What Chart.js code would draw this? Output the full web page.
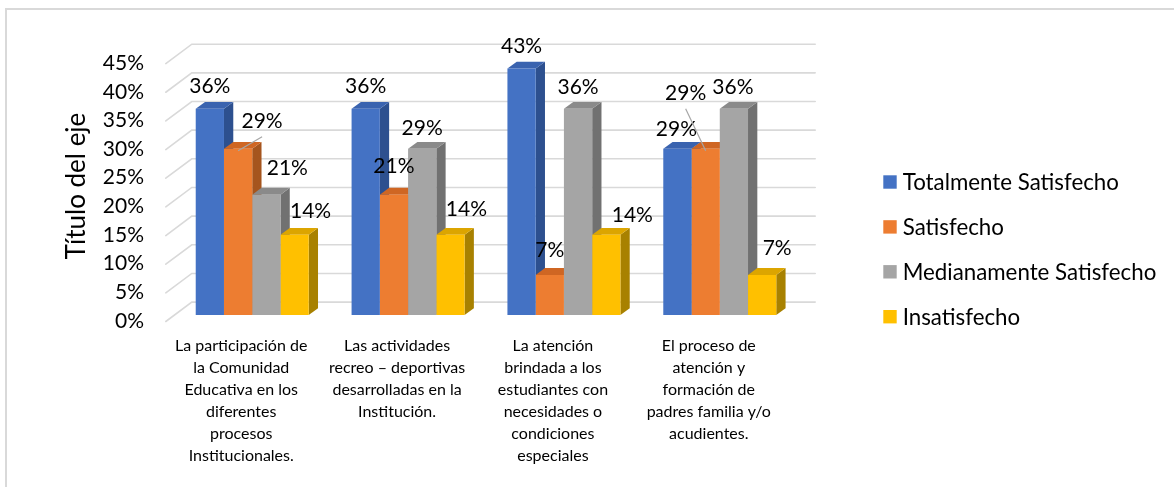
<!DOCTYPE html>
<html>
<head>
<meta charset="utf-8">
<script src="https://cdn.jsdelivr.net/npm/chart.js@4.4.1/dist/chart.umd.min.js"></script>
<style>
  html, body { margin: 0; padding: 0; background: #ffffff; overflow: hidden; }
  #frame { position: absolute; left: 5px; top: 8px; width: 1220px; height: 520px;
           border: 2px solid #d9d9d9; box-sizing: border-box; }
  #wrap { position: absolute; left: 0; top: 0; width: 1174px; height: 487px; }
</style>
</head>
<body>
<div id="frame"></div>
<div id="wrap"><canvas id="chart" width="1174" height="487"></canvas></div>
<script>
// ---- data ----
const categories = [
  ['La participación de', 'la Comunidad', 'Educativa en los', 'diferentes', 'procesos', 'Institucionales.'],
  ['Las actividades', 'recreo – deportivas', 'desarrolladas en la', 'Institución.'],
  ['La atención', 'brindada a los', 'estudiantes con', 'necesidades o', 'condiciones', 'especiales'],
  ['El proceso de', 'atención y', 'formación de', 'padres familia y/o', 'acudientes.']
];
const seriesNames = ['Totalmente Satisfecho', 'Satisfecho', 'Medianamente Satisfecho', 'Insatisfecho'];
const totalmenteSatisfecho   = [36, 36, 43, 29];
const satisfecho             = [29, 21, 7, 29];
const medianamenteSatisfecho = [21, 29, 36, 36];
const insatisfecho           = [14, 14, 14, 7];
const yTickValues = [0, 5, 10, 15, 20, 25, 30, 35, 40, 45];
const axisTitle = 'Título del eje';

// ---- styling ----
const FONT = 'Lato';
const faceColors = [
  { front: '#4472C4', top: '#3A63AF', side: '#2D508F' },
  { front: '#ED7D31', top: '#CF6623', side: '#A5551E' },
  { front: '#A5A5A5', top: '#8A8A8A', side: '#717171' },
  { front: '#FFC000', top: '#DCA500', side: '#A88100' }
];
const BAR_DEPTH = { x: 9.3, y: 6.8 };     // extrusion of each bar
const WALL_BACK = { x: 17.5, y: 12.9 };   // back wall behind the bar fronts
const FLOOR_FRONT = { x: -8.5, y: 6.5 };  // front edge of the floor

// label placement tweaks [dx, dy] per series / category
const labelNudge = [
  [[0, 0],   [0, 0],  [0, 0],  [-1, 2]],
  [[24, -6], [0, -6], [0, -3], [-20, -34]],
  [[21, -4], [0, 1],  [0, 1],  [-1, 1]],
  [[16, -2], [16, -4],[26, 2], [15, -5]]
];
const leaderLines = [[1, 0], [1, 3]]; // [series, category] labels joined to their bar

const seriesValues = [totalmenteSatisfecho, satisfecho, medianamenteSatisfecho, insatisfecho];

function fillPoly(ctx, pts, color) {
  ctx.beginPath();
  ctx.moveTo(pts[0][0], pts[0][1]);
  for (let i = 1; i < pts.length; i++) ctx.lineTo(pts[i][0], pts[i][1]);
  ctx.closePath();
  ctx.fillStyle = color;
  ctx.fill();
}

// back wall grid, wall-to-floor diagonals, and the side/top faces of every bar
const depthPlugin = {
  id: 'depth',
  beforeDatasetsDraw(chart) {
    const { ctx, chartArea: a } = chart;
    const y = chart.scales.y;
    ctx.save();
    ctx.strokeStyle = '#d9d9d9';
    ctx.lineWidth = 1.6;
    ctx.lineCap = 'round';
    y.ticks.forEach(t => {
      const py = y.getPixelForValue(t.value);
      ctx.beginPath();
      ctx.moveTo(a.left + FLOOR_FRONT.x, py + FLOOR_FRONT.y);
      ctx.lineTo(a.left + WALL_BACK.x, py - WALL_BACK.y);
      ctx.lineTo(a.right + WALL_BACK.x, py - WALL_BACK.y);
      ctx.stroke();
    });
    const nCat = chart.data.labels.length;
    const nSer = chart.data.datasets.length;
    for (let c = 0; c < nCat; c++) {
      for (let s = 0; s < nSer; s++) {
        const el = chart.getDatasetMeta(s).data[c];
        const { x, y: top, base, width } = el.getProps(['x', 'y', 'base', 'width'], true);
        const l = x - width / 2, r = x + width / 2;
        const col = faceColors[s];
        fillPoly(ctx, [[r, top], [r + BAR_DEPTH.x, top - BAR_DEPTH.y],
                       [r + BAR_DEPTH.x, base - BAR_DEPTH.y], [r, base]], col.side);
        fillPoly(ctx, [[l, top], [l + BAR_DEPTH.x, top - BAR_DEPTH.y],
                       [r + BAR_DEPTH.x, top - BAR_DEPTH.y], [r, top]], col.top);
      }
    }
    ctx.restore();
  },
  afterDatasetsDraw(chart) {
    const { ctx } = chart;
    ctx.save();
    ctx.font = '21px ' + FONT;
    ctx.fillStyle = '#000000';
    ctx.textAlign = 'center';
    ctx.textBaseline = 'middle';
    chart.data.datasets.forEach((ds, s) => {
      chart.getDatasetMeta(s).data.forEach((el, c) => {
        const v = ds.data[c];
        const nudge = labelNudge[s][c];
        const lx = el.x + nudge[0];
        const ly = el.y - 23 + nudge[1];
        if (leaderLines.some(p => p[0] === s && p[1] === c)) {
          ctx.save();
          ctx.strokeStyle = '#a6a6a6';
          ctx.lineWidth = 1.2;
          ctx.beginPath();
          ctx.moveTo(lx, ly + 17);
          ctx.lineTo(el.x, el.y + 2);
          ctx.stroke();
          ctx.restore();
        }
        ctx.fillText(Math.round(v) + '%', lx, ly + 1);
      });
    });
    ctx.restore();
  }
};

// series key on the right
const sideLegend = {
  id: 'sideLegend',
  afterDraw(chart, args, opts) {
    const { ctx } = chart;
    ctx.save();
    ctx.font = opts.font;
    ctx.textBaseline = 'middle';
    ctx.textAlign = 'left';
    chart.data.datasets.forEach((ds, i) => {
      const cy = opts.top + i * opts.spacing;
      ctx.fillStyle = ds.backgroundColor;
      ctx.fillRect(opts.x, cy - opts.box / 2, opts.box, opts.box);
      ctx.fillStyle = opts.color;
      ctx.fillText(ds.label, opts.x + opts.box + opts.gap, cy + 1);
    });
    ctx.restore();
  }
};

function build() {
  new Chart(document.getElementById('chart'), {
    type: 'bar',
    data: {
      labels: categories,
      datasets: seriesNames.map((name, i) => ({
        label: name,
        data: seriesValues[i],
        backgroundColor: faceColors[i].front,
        borderWidth: 0,
        categoryPercentage: 0.725,
        barPercentage: 1.0
      }))
    },
    options: {
      responsive: false,
      animation: false,
      events: [],
      layout: { padding: { left: 0, right: 376.3, top: 57.1, bottom: 0 } },
      scales: {
        x: {
          grid: { display: false, drawTicks: false },
          border: { display: false },
          ticks: {
            autoSkip: false, maxRotation: 0, minRotation: 0,
            padding: 20, labelOffset: -11, color: '#000000',
            font: { family: FONT, size: 16, lineHeight: '22px' }
          },
          afterFit(scale) { scale.height = 172; }
        },
        y: {
          min: 0, max: 45,
          afterBuildTicks(scale) { scale.ticks = yTickValues.map(v => ({ value: v })); },
          grid: { display: false, drawTicks: false },
          border: { display: false },
          ticks: {
            padding: 30.3, labelOffset: 6, color: '#000000',
            font: { family: FONT, size: 21 },
            callback: v => v + '%'
          },
          title: {
            display: true, text: axisTitle, color: '#000000',
            font: { family: FONT, size: 26 }, padding: { top: 61, bottom: 0 }
          },
          afterFit(scale) { scale.width = 174.3; }
        }
      },
      plugins: {
        legend: { display: false },
        tooltip: { enabled: false },
        sideLegend: { x: 883.3, top: 182, spacing: 44.9, box: 13.4, gap: 6,
                      font: '22.3px ' + FONT, color: '#000000' }
      }
    },
    plugins: [depthPlugin, sideLegend]
  });
}

const fontsReady = document.fonts
  ? Promise.all(['16px', '21px', '22.3px', '26px'].map(s => document.fonts.load(s + ' ' + FONT))).catch(() => {})
  : Promise.resolve();
fontsReady.then(build, build);
</script>
</body>
</html>
